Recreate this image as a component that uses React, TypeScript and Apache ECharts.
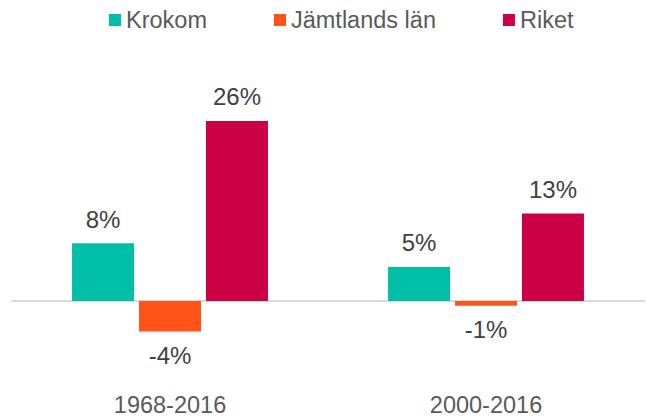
import React, { useEffect, useRef } from "react";
import * as echarts from "echarts";

const categories = ["1968-2016", "2000-2016"];
const krokom = [8.3, 4.9];
const jamtland = [-4.4, -0.7];
const riket = [25.9, 12.6];
const seriesNames = ["Krokom", "Jämtlands län", "Riket"];
const colors = ["#00BFA6", "#FF5317", "#CC0044"];

const FONT = "'Liberation Sans', Arial, sans-serif";

export default function App() {
  const ref = useRef<HTMLDivElement>(null);
  useEffect(() => {
    if (!ref.current) return;
    const chart = echarts.init(ref.current, undefined, { renderer: "svg" });
    const mk = (vals: number[]) =>
      vals.map((v) => ({
        value: v,
        label: { position: v < 0 ? "bottom" : "top" },
      }));
    const all = [krokom, jamtland, riket];
    chart.setOption({
      animation: false,
      textStyle: { fontFamily: FONT },
      legend: {
        top: 3,
        left: 104,
        itemWidth: 12,
        itemHeight: 12,
        itemGap: 67,
        icon: "rect",
        textStyle: { fontSize: 23.5, color: "#595959", fontFamily: FONT },
        data: seriesNames,
      },
      grid: {
        left: 12,
        right: 2,
        top: 92.5,
        bottom: 47.5,
        containLabel: false,
        outerBoundsMode: "none",
      },
      xAxis: {
        type: "category",
        data: categories,
        axisLine: { onZero: true, lineStyle: { color: "#D9D9D9", width: 2 } },
        axisTick: { show: false },
        axisLabel: {
          margin: 22,
          fontSize: 23.5,
          color: "#595959",
          fontFamily: FONT,
        },
      },
      yAxis: {
        type: "value",
        min: -10,
        max: 30,
        show: false,
        splitLine: { show: false },
      },
      series: all.map((vals, i) => ({
        name: seriesNames[i],
        type: "bar",
        barWidth: 62,
        barGap: "8%",
        itemStyle: { color: colors[i] },
        label: {
          show: true,
          distance: 12,
          fontSize: 24,
          color: "#404040",
          fontFamily: FONT,
          formatter: (p: any) => Math.round(p.value) + "%",
        },
        data: mk(vals),
      })),
    });
    return () => chart.dispose();
  }, []);
  return (
    <div
      ref={ref}
      style={{ position: "absolute", left: 0, top: 0, width: 646, height: 418 }}
    />
  );
}
